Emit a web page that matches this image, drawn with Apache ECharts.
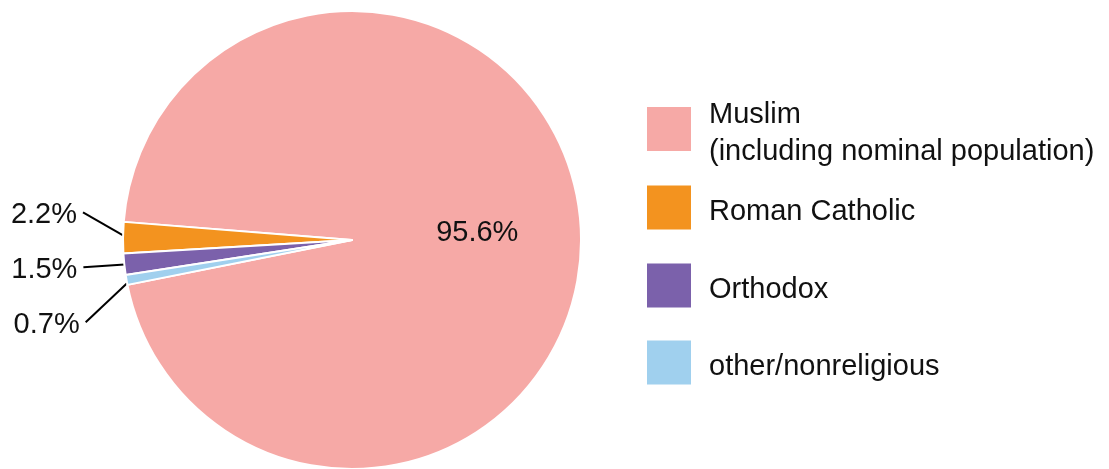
<!DOCTYPE html>
<html>
<head>
<meta charset="utf-8">
<script src="https://cdn.jsdelivr.net/npm/echarts@6/dist/echarts.min.js"></script>
<style>
html,body{margin:0;padding:0;background:#fff;}
#chart{width:1109px;height:469px;}
</style>
</head>
<body>
<div id="chart"></div>
<script>
const categories = ['Muslim\n(including nominal population)', 'Roman Catholic', 'Orthodox', 'other/nonreligious'];
const values = [95.6, 2.2, 1.5, 0.7];
const colors = ['#F6A9A6', '#F3931F', '#7B61AB', '#A0D0EE'];

const FONT = '"Liberation Sans", Arial, Helvetica, sans-serif';
const chart = echarts.init(document.getElementById('chart'), null, {renderer: 'canvas'});

const data = categories.map((name, i) => {
  const item = {name: name, value: values[i], itemStyle: {color: colors[i]}};
  if (i === 0) {
    item.label = {position: 'inside', padding: [0, 0, 0, 16], lineHeight: 34};
    item.labelLine = {show: false};
  }
  return item;
});

const legendTops = [88, 185, 263, 340];
const legends = categories.map((name, i) => ({
  data: [name],
  orient: 'vertical',
  left: 647,
  top: legendTops[i],
  padding: 0,
  icon: 'rect',
  itemWidth: 44,
  itemHeight: 44,
  itemStyle: {borderWidth: 0},
  selectedMode: false,
  formatter: n => n.split('\n').map(s => '{t|' + s + '}').join('\n'),
  textStyle: {
    fontFamily: FONT,
    fontSize: 29,
    color: '#111',
    lineHeight: 37,
    padding: [0, 0, 0, 13],
    rich: {
      t: {
        fontFamily: FONT,
        fontSize: 29,
        color: '#111',
        lineHeight: 37,
        height: 37,
        padding: [8, 0, 0, 0]
      }
    }
  }
}));

const LABEL_SHIFT = -22;
const LINE_REACH = 45;

chart.setOption({
  animation: false,
  backgroundColor: '#fff',
  legend: legends,
  series: [{
    type: 'pie',
    center: [352, 240],
    radius: [0, 229],
    startAngle: 191.3,
    clockwise: false,
    avoidLabelOverlap: true,
    itemStyle: {borderColor: '#fff', borderWidth: 2},
    emphasis: {disabled: true},
    label: {
      show: true,
      position: 'outside',
      formatter: p => p.value.toFixed(1) + '%',
      fontFamily: FONT,
      fontSize: 29,
      color: '#111',
      lineHeight: 53,
      distanceToLabelLine: 6
    },
    labelLine: {
      show: true,
      length: 40,
      length2: 0.1,
      minTurnAngle: 0,
      maxSurfaceAngle: 180,
      lineStyle: {color: '#000', width: 2}
    },
    labelLayout: function (params) {
      if (params.dataIndex === 0 || !params.labelLinePoints) return {};
      const r = params.labelRect;
      const cy = r.y + r.height / 2 + LABEL_SHIFT;
      const ax = params.rect.x - LINE_REACH;
      const s = params.labelLinePoints[0];
      return {
        x: ax,
        y: cy,
        align: 'right',
        verticalAlign: 'middle',
        labelLinePoints: [[s[0] + 4, s[1]], [ax + 6, cy - 3]]
      };
    },
    data: data
  }]
});
</script>
</body>
</html>
